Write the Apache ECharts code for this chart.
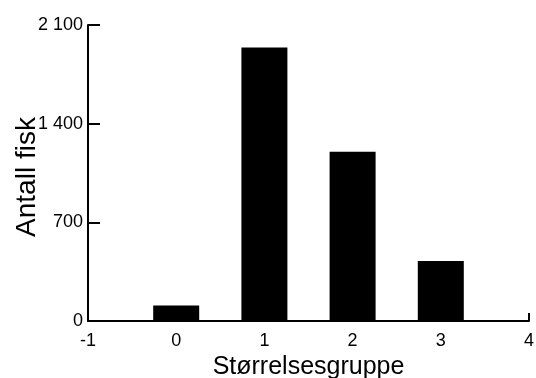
<!DOCTYPE html>
<html>
<head>
<meta charset="utf-8">
<script src="https://cdn.jsdelivr.net/npm/echarts@6/dist/echarts.min.js"></script>
<style>
  html, body { margin: 0; padding: 0; background: #fff; }
  #chart { width: 536px; height: 378px; }
</style>
</head>
<body>
<div id="chart"></div>
<script>
// Size groups and fish counts per group
const groups = [0, 1, 2, 3];
const counts = [110, 1940, 1200, 425];
const yTicks = [0, 700, 1400, 2100];
const xTicks = [-1, 0, 1, 2, 3, 4];
const xTitle = 'Størrelsesgruppe';
const yTitle = 'Antall fisk';

const font = '"Liberation Sans", Arial, sans-serif';
const fmtThousands = v => String(v).replace(/\B(?=(\d{3})+(?!\d))/g, ' ');

const chart = echarts.init(document.getElementById('chart'), null, { renderer: 'canvas' });
chart.setOption({
  animation: false,
  backgroundColor: '#fff',
  grid: { left: 88, right: 7, top: 25, bottom: 57, containLabel: false, outerBoundsMode: 'none' },
  xAxis: {
    type: 'value',
    min: xTicks[0],
    max: xTicks[xTicks.length - 1],
    interval: 1,
    name: xTitle,
    nameLocation: 'middle',
    nameGap: 34,
    nameMoveOverlap: false,
    nameTextStyle: { fontFamily: font, fontSize: 25, color: '#000' },
    axisLine: { show: true, onZero: false, lineStyle: { color: '#000', width: 2 } },
    axisTick: { show: true, inside: true, length: 8, lineStyle: { color: '#000', width: 2 } },
    axisLabel: { fontFamily: font, fontSize: 18, color: '#000', margin: 11 },
    splitLine: { show: false }
  },
  yAxis: {
    type: 'value',
    min: yTicks[0],
    max: yTicks[yTicks.length - 1],
    interval: yTicks[1] - yTicks[0],
    name: yTitle,
    nameLocation: 'middle',
    nameGap: 47,
    nameMoveOverlap: false,
    nameTextStyle: { fontFamily: font, fontSize: 28, color: '#000', padding: [0, 8, 0, 0] },
    axisLine: { show: true, onZero: false, lineStyle: { color: '#000', width: 2 } },
    axisTick: { show: true, inside: true, length: 12, lineStyle: { color: '#000', width: 2 } },
    axisLabel: { fontFamily: font, fontSize: 18, color: '#000', margin: 5, formatter: fmtThousands },
    splitLine: { show: false }
  },
  series: [{
    type: 'bar',
    data: groups.map((g, i) => [g, counts[i]]),
    barWidth: 46,
    itemStyle: { color: '#000' },
    z: 3
  }]
});
</script>
</body>
</html>
